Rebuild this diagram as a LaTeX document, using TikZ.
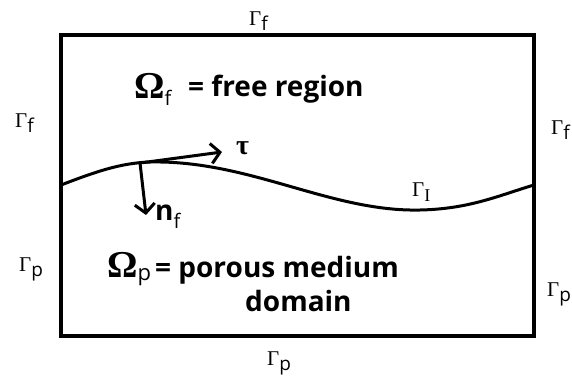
\documentclass[tikz,border=0pt]{standalone}
\usepackage{fontspec}
\setmainfont{Liberation Serif}
\newfontfamily\osans{Open Sans}
\usetikzlibrary{arrows.meta}
\newcommand\gsub[2]{#1\raisebox{-5pt}{\osans\fontsize{19}{19}\selectfont #2}}
\begin{document}
\begin{tikzpicture}[x=1pt,y=-1pt,
  gam/.style={inner sep=0pt, anchor=base west, font=\fontsize{21}{21}\selectfont},
  big/.style={inner sep=0pt, anchor=base west, font=\osans\bfseries\fontsize{28}{34}\selectfont},
  omega/.style={inner sep=0pt, anchor=base west, font=\bfseries\fontsize{38}{38}\selectfont},
  border/.style={line width=4pt},
  iface/.style={line width=3pt},
  vec/.style={line width=3pt, -{Straight Barb[length=9pt,width=20pt,line width=3pt]}}]
\useasboundingbox (0,0) rectangle (572,383);
\draw[border] (61,35) rectangle (534,336);
% interface
\coordinate (c0) at (61,185);
\coordinate (c1) at (150,162);
\coordinate (c2) at (420,210);
\coordinate (c3) at (534,185);
\draw[iface] (c0) .. controls (95,172) and (120,163) .. (c1)
  .. controls (250,160) and (330,212) .. (c2)
  .. controls (470,209) and (500,195) .. (c3);
% vectors
\coordinate (p) at (140,163);
\coordinate (t) at (222,152);
\coordinate (n) at (146,215);
\draw[vec] (p) -- (t);
\draw[vec] (p) -- (n);
\node[gam, font=\bfseries\fontsize{28}{28}\selectfont] (tau) at (236,154) {τ};
\node[big] (nvec) at (155,220) {n\raisebox{-8pt}{\osans\mdseries\fontsize{20}{20}\selectfont f}};
% boundary labels
\node[gam] (gtop) at (249,25) {\gsub{Γ}{f}};
\node[gam] (gleftf) at (15,127) {\gsub{Γ}{f}};
\node[gam] (gleftp) at (19,271) {\gsub{Γ}{p}};
\node[gam] (grightf) at (551,134) {\gsub{Γ}{f}};
\node[gam] (grightp) at (547,296) {\gsub{Γ}{p}};
\node[gam] (gbot) at (267,365) {\gsub{Γ}{p}};
\node[gam] (gint) at (412,196) {Γ\raisebox{-5pt}{\fontsize{18}{18}\selectfont I}};
% region labels
\node[omega] (of) at (134,98) {Ω\raisebox{-7pt}{\osans\mdseries\fontsize{20}{20}\selectfont f}};
\node[big] (oft) at (188,96) {= free region};
\node[omega] (op) at (107,277) {Ω\raisebox{-3pt}{\osans\mdseries\fontsize{22}{22}\selectfont p}};
\node[big] (opt) at (155,277) {= porous medium};
\node[big] (opt2) at (245,311) {domain};
\end{tikzpicture}
\end{document}
